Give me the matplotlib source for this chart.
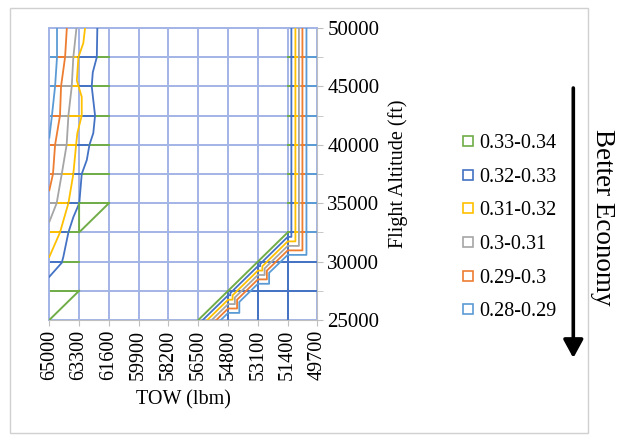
import matplotlib
matplotlib.use('Agg')
import matplotlib.pyplot as plt
from matplotlib.lines import Line2D
from matplotlib.patches import Rectangle
import numpy as np

plt.rcParams['font.family'] = ['Liberation Serif', 'DejaVu Serif']

# ---------------- data ----------------
tow_ticks = [65000, 63300, 61600, 59900, 58200, 56500, 54800, 53100, 51400, 49700]
alt_major = [25000, 30000, 35000, 40000, 45000, 50000]
alt_minor = [27500, 32500, 37500, 42500, 47500]

band_labels = ['0.33-0.34', '0.32-0.33', '0.31-0.32', '0.3-0.31', '0.29-0.3', '0.28-0.29']
band_colors = ['#70AD47', '#4472C4', '#FFC000', '#A5A5A5', '#ED7D31', '#5B9BD5']
GREEN, BLUE2, GOLD, GRAY, ORANGE, BLUE1 = band_colors

# left (heavy TOW) contour lines
left_blue1_tow = [64560, 64560, 64670, 64850, 65000]
left_blue1_alt = [50000, 47500, 45000, 42500, 40600]
left_orange_tow = [64000, 64100, 64330, 64390, 64670, 64790, 65000]
left_orange_alt = [50000, 47500, 45000, 42500, 40000, 37500, 36100]
left_gray_tow = [63450, 63630, 63720, 63910, 64010, 64290, 64580, 65000]
left_gray_alt = [50000, 47500, 45000, 42500, 40000, 37500, 35000, 33400]
left_gold_tow = [62960, 63060, 63340, 63430, 63150, 63150, 63400, 63470, 63630, 63910, 64390, 65000]
left_gold_alt = [50000, 48700, 47500, 45500, 44100, 42500, 41000, 40000, 37500, 35000, 32500, 30400]
left_blue2_tow = [62260, 62290, 62520, 62580, 62390, 62490, 62710, 62860, 63150, 63290, 63630, 63910,
                  64200, 64290, 65000]
left_blue2_alt = [50000, 47500, 46200, 45000, 42500, 41000, 40000, 38700, 37500, 35000, 33800, 32500,
                  30400, 29900, 28700]

# where the green band ends on each left gridline
left_grid_alt = [47500, 45000, 42500, 40000, 37500, 35000, 32500, 30000, 27500]
left_green_end = [61600, 61600, 61600, 61600, 61600, 61600, 63300, 63300, 63300]

# left green boundary strokes
left_green_a_tow = [61600, 63300, 63300]
left_green_a_alt = [35000, 32500, 35000]
left_green_b_tow = [63300, 65000]
left_green_b_alt = [27500, 25000]

# right (light TOW) boundary and stair contours
right_green_tow = [56500, 51400]
right_green_alt = [25000, 32500]

stair_blue2_tow = [56243, 54800, 54672, 54672, 53100, 52972, 52972, 51400, 51190, 51190]
stair_blue2_alt = [25000, 27115, 27115, 27303, 29608, 29608, 29796, 32115, 32115, 50000]
stair_gold_tow = [55986, 54800, 54544, 54544, 53100, 52844, 52844, 51400, 50960, 50960]
stair_gold_alt = [25000, 26739, 26739, 27114, 29231, 29231, 29606, 31730, 31730, 50000]
stair_gray_tow = [55729, 54800, 54416, 54416, 53100, 52716, 52716, 51400, 50760, 50760]
stair_gray_alt = [25000, 26362, 26362, 26925, 28854, 28854, 29417, 31345, 31345, 50000]
stair_orange_tow = [55472, 54800, 54288, 54288, 53100, 52588, 52588, 51400, 50560, 50560]
stair_orange_alt = [25000, 25985, 25985, 26736, 28477, 28477, 29228, 30960, 30960, 50000]
stair_blue1_tow = [55215, 54800, 54160, 54160, 53100, 52460, 52460, 51400, 50330, 50330]
stair_blue1_alt = [25000, 25608, 25608, 26546, 28101, 28101, 29039, 30575, 30575, 50000]

right_grid_alt = [32500, 35000, 37500, 40000, 42500, 45000, 47500]

# ---------------- figure ----------------
fig = plt.figure(figsize=(6.21, 4.42), dpi=100)
W, H = 621, 442
ax = fig.add_axes([49.3 / W, (H - 320) / H, (317.5 - 49.3) / W, (320 - 28) / H])

GRID = '#A3B4E6'
ax.set_xlim(65000, 49700)
ax.set_ylim(25000, 50000)
ax.set_xticks(tow_ticks)
ax.set_xticklabels([str(t) for t in tow_ticks], rotation=90)
ax.set_yticks(alt_major)
ax.set_yticks(alt_minor, minor=True)
ax.xaxis.grid(True, which='major', color=GRID, lw=1.4, zorder=0)
ax.yaxis.grid(True, which='both', color=GRID, lw=1.4, zorder=0)
ax.set_axisbelow(True)
ax.yaxis.tick_right()
ax.yaxis.set_label_position('right')
ax.tick_params(axis='x', direction='out', length=4, color='#BFBFBF', labelsize=14.5, pad=3)
ax.tick_params(axis='y', which='both', direction='out', length=4, color='#BFBFBF', labelsize=15, pad=3)
for s in ['right', 'bottom']:
    ax.spines[s].set_color('#BFBFBF')
for s in ['left', 'top']:
    ax.spines[s].set_color(GRID)
    ax.spines[s].set_linewidth(1.4)

ax.set_xlabel('TOW (lbm)', fontsize=14.5, labelpad=7)
ax.set_ylabel('Flight Altitude (ft)', fontsize=14.5, labelpad=6)

LW = 1.3

# darker blue gridlines in the lower-right region
ax.plot([53100, 49700], [30000, 30000], color=BLUE2, lw=1.4, zorder=1)
ax.plot([54800, 49700], [27500, 27500], color=BLUE2, lw=1.4, zorder=1)
ax.plot([53100, 53100], [25000, 30000], color=BLUE2, lw=1.4, zorder=1)
ax.plot([51400, 51400], [25000, 32500], color=BLUE2, lw=1.4, zorder=1)
ax.plot([54800, 54800], [25000, 27500], color=BLUE2, lw=1.4, zorder=1)

# left band-coloured gridline segments
left_lines = [(left_blue1_tow, left_blue1_alt), (left_orange_tow, left_orange_alt),
              (left_gray_tow, left_gray_alt), (left_gold_tow, left_gold_alt),
              (left_blue2_tow, left_blue2_alt)]
seg_cols_left = [BLUE1, ORANGE, GRAY, GOLD, BLUE2, GREEN]
for a, gend in zip(left_grid_alt, left_green_end):
    xs = [65000]
    for t, al in left_lines:
        if a < min(al):
            xs.append(65000)
        else:
            xs.append(float(np.interp(a, al[::-1], t[::-1])))
    xs.append(gend)
    for i, c in enumerate(seg_cols_left):
        if xs[i] > xs[i + 1]:
            ax.plot([xs[i], xs[i + 1]], [a, a], color=c, lw=1.4, zorder=2)

# right band-coloured gridline segments
stairs = [(stair_blue2_tow, stair_blue2_alt, BLUE2), (stair_gold_tow, stair_gold_alt, GOLD),
          (stair_gray_tow, stair_gray_alt, GRAY), (stair_orange_tow, stair_orange_alt, ORANGE),
          (stair_blue1_tow, stair_blue1_alt, BLUE1)]
seg_cols_right = [GREEN, BLUE2, GOLD, GRAY, ORANGE, BLUE1]
vx = [51400] + [s[0][-1] for s in stairs] + [49700]
for a in right_grid_alt:
    for i, c in enumerate(seg_cols_right):
        ax.plot([vx[i], vx[i + 1]], [a, a], color=c, lw=1.4, zorder=2)

# contour lines
for (t, al), c in zip(left_lines, [BLUE1, ORANGE, GRAY, GOLD, BLUE2]):
    ax.plot(t, al, color=c, lw=LW, zorder=3)
ax.plot(left_green_a_tow, left_green_a_alt, color=GREEN, lw=1.4, zorder=3)
ax.plot(left_green_b_tow, left_green_b_alt, color=GREEN, lw=1.4, zorder=3)
ax.plot(right_green_tow, right_green_alt, color=GREEN, lw=1.4, zorder=3)
for t, al, c in stairs:
    ax.plot(t, al, color=c, lw=LW, zorder=3)

# legend
handles = [Line2D([], [], linestyle='none', marker='s', markersize=7, markerfacecolor='none',
                  markeredgecolor=c, markeredgewidth=1.2) for c in band_colors]
fig.legend(handles, band_labels, loc='upper left', bbox_to_anchor=(452 / W, 1 - 124 / H),
           frameon=False, fontsize=14.5, handlelength=0.6, handletextpad=0.25,
           labelspacing=0.72, borderpad=0)

# better-economy arrow and text
ax.annotate('', xy=(573.3, H - 358), xytext=(573.3, H - 88), xycoords='figure pixels',
            textcoords='figure pixels',
            arrowprops=dict(arrowstyle='-|>,head_length=0.55,head_width=0.3', lw=2.6,
                            color='black', mutation_scale=20, shrinkA=0, shrinkB=0))
fig.text(602 / W, 1 - 217 / H, 'Better Economy', rotation=-90, fontsize=19.5,
         ha='center', va='center')

fig.patches.append(Rectangle((10 / W, 1 - 433 / H), (588 - 10) / W, (433 - 8) / H,
                             transform=fig.transFigure, fill=False, edgecolor='#D0D0D0', lw=1))

fig.savefig('out.png', dpi=100)
